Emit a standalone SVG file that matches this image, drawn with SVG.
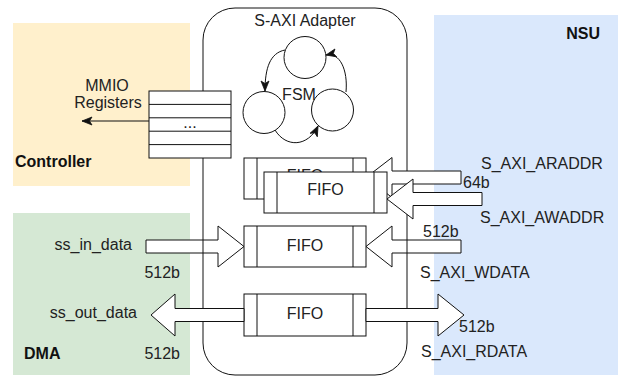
<svg xmlns="http://www.w3.org/2000/svg" width="618" height="378" viewBox="0 0 618 378">
<style>
.t{font-family:"Liberation Sans",Arial,Helvetica,sans-serif;font-size:16px;fill:#222}
.b{font-weight:bold;fill:#111}
.m{text-anchor:middle}
.e{text-anchor:end}
.sh{fill:#fff;stroke:#111;stroke-width:1}
.ln{fill:none;stroke:#111;stroke-width:1}
.big{fill:#fff;stroke:#111;stroke-width:1;stroke-linejoin:miter}
</style>
<defs>
<marker id="ah" markerUnits="userSpaceOnUse" markerWidth="12" markerHeight="10" refX="10" refY="4" orient="auto" overflow="visible">
<path d="M0,0 L10,4 L0,8 L2.5,4 Z" fill="#111" stroke="#111" stroke-width="0.8" stroke-linejoin="miter"/>
</marker>
</defs>
<rect width="618" height="378" fill="#fff"/>

<g id="controller">
<rect x="13" y="23" width="177" height="163" fill="#fff0cc"/>
<text class="t b" x="15" y="167">Controller</text>
<text class="t m" x="107" y="91">MMIO</text>
<text class="t m" x="108" y="108">Registers</text>
</g>

<g id="dma">
<rect x="13" y="213" width="177" height="162" fill="#d5e8d4"/>
<text class="t b" x="24" y="359">DMA</text>
<text class="t e" x="132" y="250">ss_in_data</text>
<text class="t e" x="180" y="278">512b</text>
<text class="t e" x="137" y="318">ss_out_data</text>
<text class="t e" x="180" y="359">512b</text>
</g>

<g id="nsu">
<rect x="434" y="15" width="184" height="360" fill="#dae8fc"/>
<text class="t b e" x="600" y="39">NSU</text>
<text class="t" x="481" y="169">S_AXI_ARADDR</text>
<text class="t" x="463" y="188">64b</text>
<text class="t" x="480" y="223">S_AXI_AWADDR</text>
<text class="t" x="423" y="237">512b</text>
<text class="t" x="420" y="278">S_AXI_WDATA</text>
<text class="t" x="459" y="332">512b</text>
<text class="t" x="421" y="357">S_AXI_RDATA</text>
</g>

<g id="connectors-under">
<path id="ss_in_arrow" class="big" d="M146,240 H218 V226 L244,246.5 L218,267 V253 H146 Z"/>
<path id="wdata_arrow" class="big" d="M461,240 H392 V226 L366,246.5 L392,267 V253 H461 Z"/>
</g>

<g id="adapter">
<rect x="203" y="8" width="204" height="367" rx="32" ry="32" class="ln"/>
<text class="t m" x="305" y="26">S-AXI Adapter</text>
</g>

<g id="fsm">
<circle cx="305" cy="57.5" r="21" class="sh"/>
<circle cx="264" cy="112.5" r="21" class="sh"/>
<circle cx="332.5" cy="110" r="21" class="sh"/>
<text class="t m" x="299" y="100">FSM</text>
</g>

<g id="registers">
<rect x="149" y="91" width="82" height="67" class="sh"/>
<path class="ln" d="M149,104.4 H231 M149,117.8 H231 M149,131.2 H231 M149,144.6 H231"/>
<text class="t m" x="190" y="128">...</text>
</g>

<g id="fifo_ar">
<rect x="244" y="158" width="122" height="41" class="sh"/>
<path class="ln" d="M257,158 V199 M353,158 V199"/>
<text class="t m" x="305" y="181">FIFO</text>
</g>

<g id="connectors-ar">
<path id="araddr_arrow" class="big" d="M461,171 H392 V157.5 L366,177.5 L392,197.5 V184 H461 Z"/>
</g>

<g id="fifo_aw">
<rect x="264" y="172" width="123" height="41" class="sh"/>
<path class="ln" d="M277,172 V213 M374,172 V213"/>
<text class="t m" x="325.5" y="195">FIFO</text>
</g>

<g id="fifo_w">
<rect x="244" y="226" width="122" height="41" class="sh"/>
<path class="ln" d="M257,226 V267 M353,226 V267"/>
<text class="t m" x="305" y="251">FIFO</text>
</g>

<g id="fifo_r">
<rect x="244" y="294" width="122" height="42" class="sh"/>
<path class="ln" d="M257,294 V336 M353,294 V336"/>
<text class="t m" x="305" y="319">FIFO</text>
</g>

<g id="connectors">
<path id="awaddr_arrow" class="big" d="M482,192.5 H413 V179 L387,199 L413,219 V205.5 H482 Z"/>
<path id="ss_out_arrow" class="big" d="M244,308.5 H175 V294 L151,315 L175,336 V321.5 H244 Z"/>
<path id="rdata_arrow" class="big" d="M366,308.5 H438 V294 L464,315 L438,336 V321.5 H366 Z"/>
<path id="mmio_arrow" class="ln" d="M149,121 H82" marker-end="url(#ah)"/>
<path id="fsm_a" class="ln" d="M285,50 C270,53 265,68 265,91" marker-end="url(#ah)"/>
<path id="fsm_b" class="ln" d="M275,130 C286,148 308,147 318,126" marker-end="url(#ah)"/>
<path id="fsm_c" class="ln" d="M346,92 C348,70 340,52 326,55" marker-end="url(#ah)"/>
</g>
</svg>
